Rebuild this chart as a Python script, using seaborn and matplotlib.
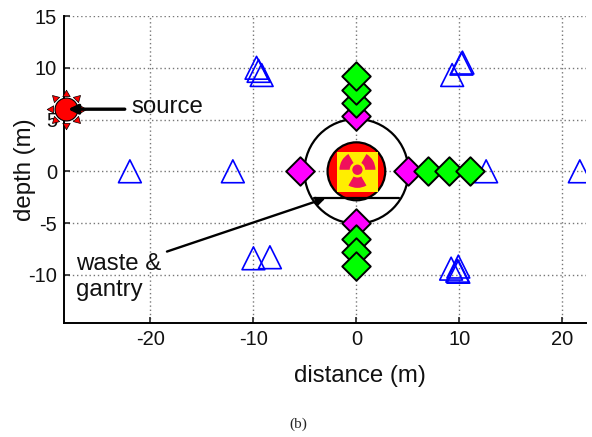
import matplotlib
matplotlib.use("Agg")
import numpy as np
import seaborn as sns
import matplotlib.pyplot as plt
from matplotlib.patches import Circle, Rectangle, Wedge

sns.set_style("white")
plt.rcParams['font.family'] = ['Liberation Sans', 'DejaVu Sans']
plt.rcParams['axes.unicode_minus'] = False

# receivers
tri_x = [-22, -12, 12.6, 21.7, -9.7, -9.5, -9.2, 9.3, 10.3, 10.2, -10, -8.4, 9.2, 9.9, 9.8, 9.9]
tri_y = [0, 0, 0, 0, 10, 9.7, 9.3, 9.3, 10.5, 10.4, -8.4, -8.3, -9.4, -9.2, -9.6, -9.7]

# sensors on the gantry and the arms
magenta_x = [0, 0, -5.5, 5]
magenta_y = [5.3, -5, 0, 0]
green_x = [0, 0, 0, 0, 0, 0, 7, 9, 11]
green_y = [6.6, 7.9, 9.2, -6.5, -7.8, -9.1, 0, 0, 0]

source_x = [-28.2]
source_y = [6]

x_ticks = [-20, -10, 0, 10, 20]
y_ticks = [-10, -5, 0, 5, 10, 15]

fig = plt.figure(figsize=(5.92, 4.37), dpi=100)
ax = fig.add_axes([64 / 592, 1 - 323 / 437, 522 / 592, 307 / 437])

# gantry + waste
ax.add_patch(Circle((0, 0), 5.05, fill=False, ec='k', lw=1.6, zorder=3))
ax.add_patch(Circle((0, 0), 2.8, fc='red', ec='k', lw=1.6, zorder=3))
ax.add_patch(Rectangle((-1.85, -2.0), 3.95, 3.9, fc='#ffee00', ec='none', zorder=3.1))
ax.add_patch(Circle((0.1, 0.15), 0.5, fc='#f0105c', ec='none', zorder=3.2))
for a in [0, 120, 240]:
    ax.add_patch(Wedge((0.1, 0.15), 1.75, a, a + 60, width=1.0, fc='#f0105c', ec='none', zorder=3.2))
ax.plot([-4.1, 4.1], [-2.55, -2.55], color='k', lw=1.6, zorder=3.3)

sns.scatterplot(x=tri_x, y=tri_y, marker='^', s=270, facecolor='none', edgecolor='#0000ff',
                linewidth=1.2, ax=ax, zorder=2.5)
sns.scatterplot(x=magenta_x, y=magenta_y, marker='D', s=210, color='#ff00ff', edgecolor='k',
                linewidth=1.4, ax=ax, zorder=4)
sns.scatterplot(x=green_x, y=green_y, marker='D', s=210, color='#00ff00', edgecolor='k',
                linewidth=1.4, ax=ax, zorder=5)

# source: red disc with little spikes around it
for a in range(0, 360, 45):
    sns.scatterplot(x=[source_x[0] + 1.5 * np.cos(np.radians(a))],
                    y=[source_y[0] + 1.5 * np.sin(np.radians(a))],
                    marker=(3, 0, a - 90), s=38, color='red', edgecolor='k',
                    linewidth=0.5, ax=ax, zorder=6, clip_on=False)
sns.scatterplot(x=source_x, y=source_y, marker='o', s=272, color='red', edgecolor='k',
                linewidth=0.8, ax=ax, zorder=7, clip_on=False)

ax.set_xlim(-28.4, 22.3)
ax.set_ylim(-14.65, 15)
ax.set_xticks(x_ticks)
ax.set_yticks(y_ticks)
ax.grid(True, linestyle=(0, (1, 2)), color='#777777', linewidth=1.0)
ax.set_axisbelow(True)
ax.tick_params(direction='in', length=4, width=1.2, left=True, bottom=True, labelsize=14.5,
               pad=5, labelcolor='#111111')
for s in ['top', 'right']:
    ax.spines[s].set_visible(False)
for s in ['left', 'bottom']:
    ax.spines[s].set_linewidth(1.4)
    ax.spines[s].set_color('k')

ax.set_xlabel('distance (m)', fontsize=17.3, color='#111111', va='center')
ax.set_ylabel('depth (m)', fontsize=17.3, color='#111111', va='center')
ax.xaxis.set_label_coords((360 - 64) / 522, (323 - 376) / 307)
ax.yaxis.set_label_coords((25 - 64) / 522, 0.5)

ax.annotate('', xy=(-28.0, 6), xytext=(-22.5, 6),
            arrowprops=dict(arrowstyle='-|>', color='k', lw=2.4, mutation_scale=14, shrinkA=0, shrinkB=0), zorder=8)
ax.text(-21.9, 6.2, 'source', fontsize=17.3, va='center', color='#111111')
ax.annotate('', xy=(-3.0, -2.6), xytext=(-18.4, -7.75),
            arrowprops=dict(arrowstyle='-|>', color='k', lw=1.7, mutation_scale=13, shrinkA=0, shrinkB=0), zorder=8)
ax.text(-27.2, -10.2, 'waste &\ngantry', fontsize=17.3, va='center', linespacing=1.25, color='#111111')

fig.text(298 / 592, 1 - 424 / 437, '(b)', family=['Liberation Serif'], fontsize=11, ha='center', va='center')

fig.savefig('out.png', dpi=100)
